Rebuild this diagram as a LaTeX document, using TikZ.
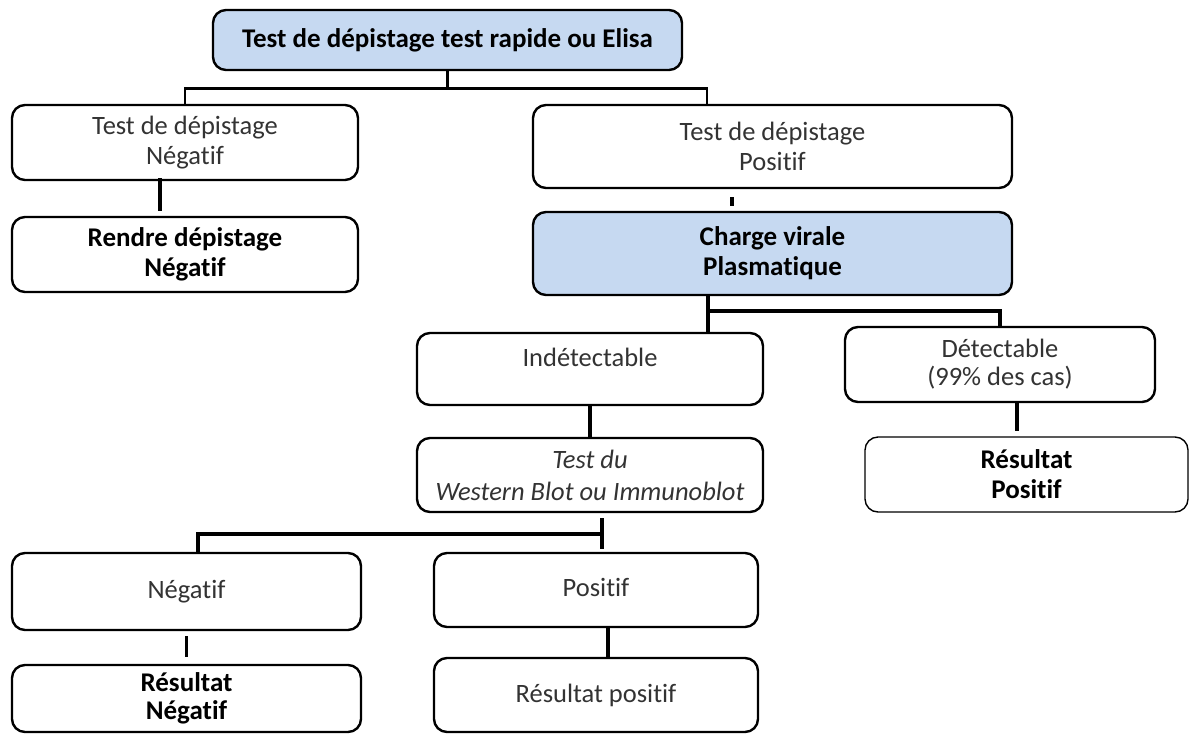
\documentclass[tikz,border=0pt]{standalone}
\usepackage{fontspec}
\setmainfont{Carlito}[Ligatures=NoCommon]
\usetikzlibrary{positioning,calc}
\definecolor{boxblue}{HTML}{C6D9F1}
\definecolor{txtgray}{HTML}{333333}
\tikzset{
  box/.style={draw=black, line width=2.4pt, rounded corners=13pt, fill=white,
    inner sep=0pt, align=center, text=txtgray,
    font=\fontsize{26.5}{30}\selectfont},
  bluebox/.style={box, fill=boxblue, text=black, font=\fontsize{27}{30}\selectfont\bfseries},
  boldbox/.style={box, text=black, font=\fontsize{27}{30}\selectfont\bfseries},
  conn/.style={draw=black, line width=3.6pt},
  thinconn/.style={draw=black, line width=2.6pt}
}
\begin{document}
\begin{tikzpicture}[x=1pt,y=-1pt]
\useasboundingbox (0,0) rectangle (1190,734);

\node[bluebox, minimum width=469, minimum height=60] (top) at (447.5,40) {Test de dépistage test rapide ou Elisa};

\node[box, minimum width=346, minimum height=75] (negA) at (185,142.5) {Test de dépistage\\Négatif};
\node[boldbox, minimum width=346, minimum height=75] (negB) at (185,254.5) {Rendre dépistage\\Négatif};

\node[box, minimum width=479, minimum height=83] (posA) at (772.5,146.5) {Test de dépistage\\Positif};
\node[bluebox, minimum width=479, minimum height=83] (cv) at (772.5,253.5) {Charge virale\\Plasmatique};

\node[box, minimum width=346, minimum height=72] (indet) at (590,369) {\raisebox{24pt}{Indétectable}};
\node[box, minimum width=346, minimum height=74, font=\fontsize{26.5}{32}\selectfont\itshape] (wb) at (590,475) {Test du\\Western Blot ou Immunoblot};

\node[box, minimum width=310, minimum height=75, font=\fontsize{26.5}{28}\selectfont] (det) at (1000,364.5) {Détectable\\(99\% des cas)};
\node[boldbox, line width=1.4pt, minimum width=323, minimum height=75] (resPos) at (1026.5,474.5) {Résultat\\Positif};

\node[box, minimum width=349, minimum height=77] (negC) at (186.5,591.5) {\raisebox{4pt}{Négatif}};
\node[box, minimum width=324, minimum height=74] (posC) at (596,590) {\raisebox{6pt}{Positif}};

\node[boldbox, minimum width=349, minimum height=67, font=\fontsize{27}{28}\selectfont\bfseries] (resNeg) at (186.5,698.5) {Résultat\\Négatif};
\node[box, minimum width=324, minimum height=74] (resPosC) at (596,695) {Résultat positif};

% connectors
\draw[thinconn] (top.south) -- ++(0,17) -| (negA.north);
\draw[thinconn] (top.south) -- ++(0,17) -| ([xshift=-65.5]posA.north);

\draw[conn, shorten >=5pt, shorten <=-3pt] ([xshift=-25]negA.south) -- ([xshift=-25]negB.north);
\draw[conn, shorten >=5pt, shorten <=8pt] ([xshift=-40.5]posA.south) -- ([xshift=-40.5]cv.north);

\draw[conn] ([xshift=-64.5]cv.south) -- ([xshift=118]indet.north);
\draw[conn] ([xshift=-64.5]cv.south) ++(0,15) -| (det.north);

\draw[conn] (indet.south) -- (wb.north);

\draw[conn, shorten <=5pt, shorten >=3pt] ([xshift=12]wb.south) -- ([xshift=6]posC.north);
\draw[conn] ([xshift=12]wb.south) ++(0,21) -| ([xshift=11.5]negC.north);

\draw[conn, shorten >=5pt] ([xshift=17]det.south) -- ([xshift=-9.5]resPos.north);

\draw[conn, shorten <=5pt, shorten >=7pt] (negC.south) -- (resNeg.north);
\draw[conn] ([xshift=12]posC.south) -- ([xshift=12]resPosC.north);
\end{tikzpicture}
\end{document}
